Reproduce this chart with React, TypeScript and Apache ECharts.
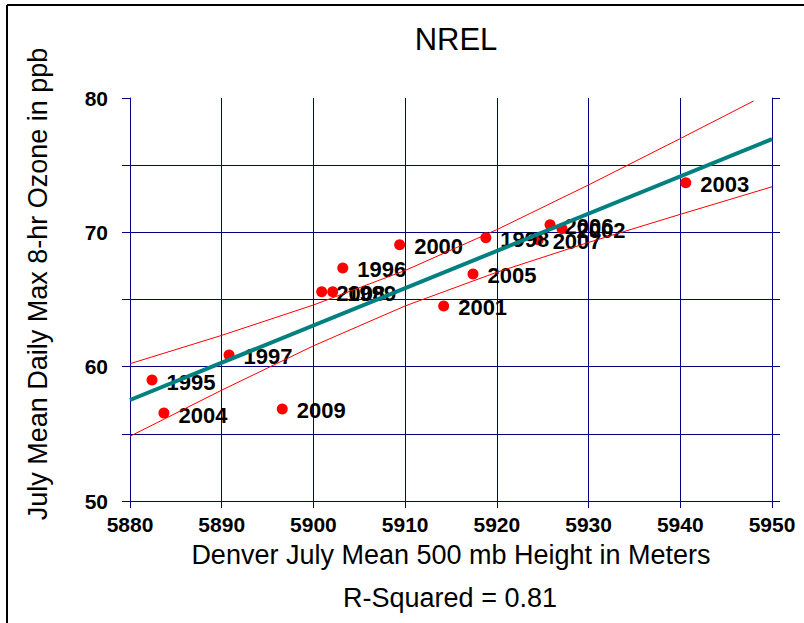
import React, { useEffect, useRef } from "react";
import * as echarts from "echarts";

// Scatter data: year, Denver July mean 500 mb height (m), July mean daily max 8-hr ozone (ppb)
const years = ["1995", "2004", "1997", "2009", "2008", "1999", "1996", "2000", "2001", "2005", "1998", "2007", "2006", "2002", "2003"];
const heights = [5882.4, 5883.7, 5890.8, 5896.6, 5900.9, 5902.1, 5903.2, 5909.4, 5914.2, 5917.4, 5918.8, 5924.5, 5925.8, 5927.1, 5940.6];
const ozone = [59.0, 56.55, 60.87, 56.85, 65.57, 65.57, 67.35, 69.07, 64.52, 66.9, 69.6, 69.44, 70.56, 70.26, 73.69];

// Regression line end points
const trendX = [5880, 5950];
const trendY = [57.52, 76.94];

// Confidence band lines
const upperX = [5880, 5890, 5900, 5910, 5920, 5930, 5940, 5948];
const upperY = [60.22, 62.33, 64.59, 67.16, 70.2, 73.53, 76.98, 79.78];
const lowerX = [5880, 5890, 5900, 5910, 5920, 5930, 5940, 5950];
const lowerY = [54.82, 58.25, 61.55, 64.52, 67.03, 69.25, 71.34, 73.39];

const xTicks = { min: 5880, max: 5950, interval: 10 };
const yTicks = { min: 50, max: 80, interval: 5 };

const FONT = "Liberation Sans, Arial, sans-serif";
const NAVY = "#000080";

export default function App() {
  const ref = useRef<HTMLDivElement>(null);
  useEffect(() => {
    if (!ref.current) return;
    const chart = echarts.init(ref.current, null, { renderer: "svg" });
    const pts = years.map((y, i) => ({ name: y, value: [heights[i], ozone[i]] }));
    chart.setOption({
      animation: false,
      backgroundColor: "#ffffff",
      textStyle: { fontFamily: FONT },
      grid: { left: 130, top: 98, right: 32, bottom: 122, containLabel: false },
      title: [
        {
          text: "NREL",
          left: 451,
          top: 19,
          textAlign: "center",
          textStyle: { fontFamily: FONT, fontSize: 31, fontWeight: "normal", color: "#000" },
        },
      ],
      graphic: [
        { type: "line", shape: { x1: 7, y1: 5, x2: 804, y2: 5 }, style: { stroke: "#000", lineWidth: 2 } },
        { type: "line", shape: { x1: 7, y1: 5, x2: 7, y2: 623 }, style: { stroke: "#000", lineWidth: 2 } },
        {
          type: "text",
          x: 38,
          y: 284,
          rotation: Math.PI / 2,
          style: {
            text: "July Mean Daily Max 8-hr Ozone in ppb",
            fontFamily: FONT,
            fontSize: 27,
            fill: "#000",
            textAlign: "center",
            textVerticalAlign: "middle",
          },
        },
        {
          type: "text",
          x: 450,
          y: 598,
          style: {
            text: "R-Squared = 0.81",
            fontFamily: FONT,
            fontSize: 27,
            fill: "#000",
            textAlign: "center",
            textVerticalAlign: "middle",
          },
        },
      ],
      xAxis: {
        type: "value",
        min: xTicks.min,
        max: xTicks.max,
        interval: xTicks.interval,
        name: "Denver July Mean 500 mb Height in Meters",
        nameLocation: "middle",
        nameGap: 40,
        nameTextStyle: { fontFamily: FONT, fontSize: 27, color: "#000" },
        axisLine: { show: true, lineStyle: { color: NAVY, width: 1 } },
        axisTick: { show: true, inside: false, length: 7, lineStyle: { color: NAVY } },
        axisLabel: {
          margin: 13,
          fontFamily: FONT,
          fontSize: 21,
          fontWeight: "bold",
          color: "#000",
          formatter: (v: number) => String(v),
        },
        splitLine: { show: true, lineStyle: { color: NAVY, width: 1 } },
      },
      yAxis: [
        {
          type: "value",
          min: yTicks.min,
          max: yTicks.max,
          interval: yTicks.interval,
          position: "left",
          axisLine: { show: true, lineStyle: { color: NAVY, width: 1 } },
          axisTick: { show: true, inside: false, length: 8, lineStyle: { color: NAVY } },
          axisLabel: {
            margin: 22,
            fontFamily: FONT,
            fontSize: 21,
            fontWeight: "bold",
            color: "#000",
            formatter: (v: number) => (v % 10 === 0 ? String(v) : ""),
          },
          splitLine: { show: true, showMaxLine: false, lineStyle: { color: NAVY, width: 1 } },
        },
        {
          type: "value",
          min: yTicks.min,
          max: yTicks.max,
          interval: yTicks.interval,
          position: "right",
          axisLine: { show: true, lineStyle: { color: NAVY, width: 1 } },
          axisTick: { show: true, inside: false, length: 8, lineStyle: { color: NAVY } },
          axisLabel: { show: false },
          splitLine: { show: false },
        },
      ],
      series: [
        {
          type: "scatter",
          z: 2,
          symbol: "circle",
          symbolSize: 11,
          itemStyle: { color: "#ff0000", opacity: 1 },
          data: pts,
          label: {
            show: true,
            position: "right",
            distance: 9,
            offset: [0, 2],
            formatter: "{b}",
            fontFamily: FONT,
            fontSize: 22,
            fontWeight: "bold",
            color: "#000",
            opacity: 1,
          },
        },
        {
          type: "line",
          z: 4,
          symbol: "none",
          lineStyle: { color: "#ff0000", width: 1 },
          data: upperX.map((x, i) => [x, upperY[i]]),
        },
        {
          type: "line",
          z: 4,
          symbol: "none",
          lineStyle: { color: "#ff0000", width: 1 },
          data: lowerX.map((x, i) => [x, lowerY[i]]),
        },
        {
          type: "line",
          z: 5,
          symbol: "none",
          lineStyle: { color: "#008080", width: 4 },
          data: trendX.map((x, i) => [x, trendY[i]]),
        },
      ],
    });
    return () => chart.dispose();
  }, []);
  return (
    <div
      ref={ref}
      style={{ position: "fixed", left: 0, top: 0, width: 804, height: 623, background: "#fff" }}
    />
  );
}
